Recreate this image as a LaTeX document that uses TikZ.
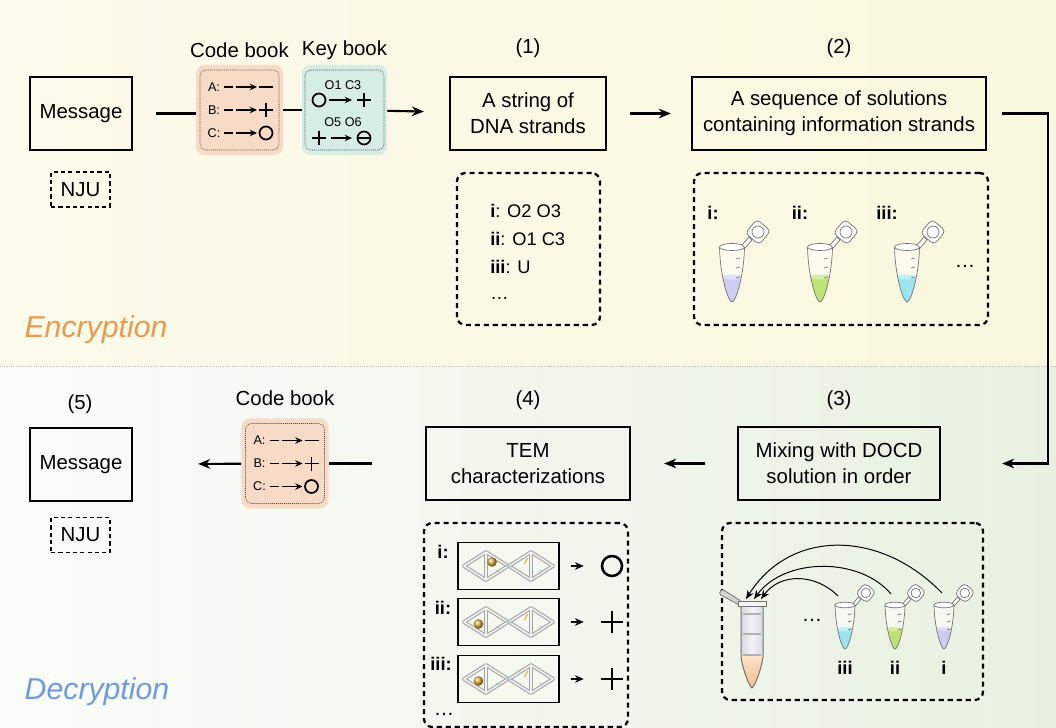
\documentclass[tikz,border=0pt]{standalone}
\usepackage{fontspec}
\setmainfont{Liberation Sans}
\usetikzlibrary{arrows.meta,positioning}

\definecolor{encbg}{HTML}{FAF7DF}
\definecolor{decbg}{HTML}{E8F1E1}
\definecolor{cbpeach}{HTML}{F8DBC6}
\definecolor{kbteal}{HTML}{D5EDE5}
\definecolor{enccol}{HTML}{E99A4E}
\definecolor{deccol}{HTML}{6E9BE0}
\definecolor{liqviolet}{HTML}{C6C4F4}
\definecolor{liqgreen}{HTML}{B4DE5E}
\definecolor{liqcyan}{HTML}{8CE2EE}
\definecolor{liqorange}{HTML}{F6BC8A}
\definecolor{origold}{HTML}{E6B23A}
\definecolor{temfill}{HTML}{F4F8EF}

\tikzset{
 stepbox/.style={draw,line width=1.6pt,align=center,inner sep=0pt,minimum height=18.25mm,font=\fontsize{14.5}{18.5}\selectfont},
 tagbox/.style={draw,line width=1.3pt,dash pattern=on 3pt off 2.2pt,minimum width=14.75mm,minimum height=8.75mm,inner sep=0pt,font=\fontsize{14.5}{17}\selectfont},
 hdr/.style={font=\fontsize{14.5}{17}\selectfont},
 listbox/.style={draw,line width=1.6pt,dash pattern=on 3.6pt off 2.8pt,rounded corners=6pt,inner sep=0pt},
 bookbg/.style={rounded corners=6pt,minimum height=22.5mm,inner sep=0pt},
 bookline/.style={draw=black!70,line width=0.45pt,dash pattern=on 0.7pt off 0.7pt,rounded corners=4pt},
 booktext/.style={font=\fontsize{9}{10}\selectfont,inner sep=0pt},
 sym/.style={line width=1.2pt},
 symtip/.style={line width=1.2pt,-{Stealth[length=1.8mm,width=1.6mm]}},
 flow/.style={line width=1.5pt,-{Stealth[length=3mm,width=2.4mm]}},
 link/.style={line width=1.5pt},
 tubeline/.style={draw=black!55,line width=0.5pt},
 tubelab/.style={font=\bfseries\fontsize{13}{15}\selectfont},
 listtext/.style={anchor=west,inner sep=0pt,font=\fontsize{13}{15}\selectfont},
 tembox/.style={draw,line width=1pt,fill=temfill,minimum width=25.25mm,minimum height=11.75mm,inner sep=0pt},
 rod/.style={draw=gray!70,double=gray!10,double distance=1.1pt,line width=0.8pt,line join=round},
 symnode/.style={minimum size=5mm,inner sep=0pt,line width=1.8pt},
 mixarrow/.style={line width=0.7pt,-{Stealth[length=2.2mm,width=1.8mm]}},
 section/.style={font=\itshape\fontsize{21.5}{24}\selectfont}
}

\newcommand{\codebook}[1]{%
 \node[bookbg,fill=cbpeach,minimum width=21.75mm] (#1) at (0,0) {};
 \draw[bookline] (-39.5,-40) rectangle (39.5,40);
 \foreach \rowy/\rowlab in {-23/A,0/B,23/C}{
  \node[booktext] at (-25.5,\rowy) {\rowlab:};
  \draw[sym] (-15.5,\rowy) -- (-6.5,\rowy);
  \draw[symtip] (-3.5,\rowy) -- (17.5,\rowy);
 }
 \draw[sym] (19.5,-23) -- (33.5,-23);
 \draw[sym] (19.5,0) -- (33.5,0) (26.5,-7) -- (26.5,7);
 \draw[sym] (26.5,23) circle (6.5);
}

\newcommand{\minitube}[1]{%
 \fill[white,opacity=0.5] (-12.5,0) .. controls (-12,28) and (-4,55) .. (0,55) .. controls (4,55) and (12,28) .. (12.5,0) -- cycle;
 \begin{scope}
  \clip (-12.5,0) .. controls (-12,28) and (-4,55) .. (0,55) .. controls (4,55) and (12,28) .. (12.5,0) -- cycle;
  \fill[#1,opacity=0.85] (-13,30) rectangle (13,56);
  \fill[#1!55!white] (0,30) ellipse (11 and 2.5);
 \end{scope}
 \draw[tubeline] (-12.5,0) .. controls (-12,28) and (-4,55) .. (0,55) .. controls (4,55) and (12,28) .. (12.5,0);
 \draw[tubeline,fill=white] (0,0) ellipse (12.5 and 3.5);
 \draw[tubeline] (4,12) -- (8,11) (4,21) -- (8,20) (4,31) -- (8,30);
 \draw[tubeline,fill=white] (10,-2) -- (17,-10) -- (20,-7) -- (13,1) -- cycle;
 \draw[tubeline,fill=white,rounded corners=3pt,rotate around={-40:(26,-15)}] (17,-24) rectangle (35,-6);
 \draw[tubeline] (26,-15) circle (6);
}

\newcommand{\temcell}[3]{%
 \node[tembox] (#1) at (0,0) {};
 \foreach \cx in {-22.5,22.5}
  \draw[rod] (\cx-22,0) -- (\cx,-14) -- (\cx+22,0) -- (\cx,14) -- cycle (\cx,-14) -- (\cx,14);
 \draw[teal!45,line width=0.5pt] (-4,-1) -- (4,1) (-12,4) -- (-9,6) (31,4) -- (34,6);
 \draw[origold,line width=0.8pt] (16,-2) -- (19,-8);
 \shade[ball color=origold] (#2,#3) circle (4.8);
}

\begin{document}
\begin{tikzpicture}[x=0.025cm,y=-0.025cm,>=Stealth]
 \useasboundingbox (0,0) rectangle (1056,728);
 \shade[left color=encbg!65!white,right color=encbg] (0,0) rectangle (1056,366);
 \shade[left color=decbg!20!white,right color=decbg] (0,366) rectangle (1056,728);
 \draw[gray!55,line width=0.7pt,dash pattern=on 0.7pt off 0.9pt] (0,366) -- (1056,366);

 \node[section,text=enccol] (enclab) at (96,330) {Encryption};
 \node[section,text=deccol] (declab) at (97,692) {Decryption};

 % encryption row
 \node[stepbox,minimum width=25.5mm] (msgenc) at (81,113.5) {Message};
 \node[tagbox] (njuenc) at (80.5,189.5) {NJU};
 \node[hdr] (cbenclab) at (239.5,50) {Code book};
 \node[hdr] (kbenclab) at (344.5,50) {Key book};
 \begin{scope}[shift={(239.5,110)}]
  \codebook{cbenc}
 \end{scope}
 \node[bookbg,fill=kbteal,minimum width=21.25mm] (kbenc) at (344.5,110) {};
 \draw[bookline] (305,70) rectangle (384,150);
 \node[booktext] at (343,85) {O1 C3};
 \draw[sym] (319,100) circle (6.5);
 \draw[symtip] (329,100) -- (352,100);
 \draw[sym] (357,100) -- (371,100) (364,93) -- (364,107);
 \node[booktext] at (343,122) {O5 O6};
 \draw[sym] (312,138) -- (326,138) (319,131) -- (319,145);
 \draw[symtip] (331,138) -- (352,138);
 \draw[sym] (364,138) circle (6.5) (357.5,138) -- (370.5,138);

 \node[hdr] (lbl1) at (528,48) {(1)};
 \node[stepbox,minimum width=39mm] (dna) at (528,113.5) {A string of\\DNA strands};
 \node[hdr] (lbl2) at (839,48) {(2)};
 \node[stepbox,minimum width=73.5mm] (sol) at (839,113.5) {A sequence of solutions\\containing information strands};

 \draw[link,shorten <=5.75mm] (msgenc) -- (msgenc -| cbenc.west);
 \draw[link] (cbenc) -- (kbenc);
 \draw[flow,shorten >=6.25mm] (kbenc) -- (dna);
 \draw[flow,shorten <=5.75mm,shorten >=5mm] (dna) -- (sol);

 % strands and solutions
 \node[listbox,minimum width=35.75mm,minimum height=38mm] (strands) at (528.5,249) {};
 \node[listtext] at (490,211) {\textbf{i}: O2 O3};
 \node[listtext] at (490,239) {\textbf{ii}: O1 C3};
 \node[listtext] at (490,267) {\textbf{iii}: U};
 \node[listtext] at (490,299) {\ldots};

 \node[listbox,minimum width=73.5mm,minimum height=38mm] (tubes) at (841,249) {};
 \node[tubelab] at (713,213) {i:};
 \node[tubelab] at (800,213) {ii:};
 \node[tubelab] at (887,213) {iii:};
 \begin{scope}[shift={(732,247)}] \minitube{liqviolet} \end{scope}
 \begin{scope}[shift={(820,247)}] \minitube{liqgreen} \end{scope}
 \begin{scope}[shift={(907,247)}] \minitube{liqcyan} \end{scope}
 \node[hdr] at (965,266) {\ldots};

 % decryption row
 \node[hdr] (lbl3) at (839,400) {(3)};
 \node[stepbox,minimum width=50.5mm] (mix) at (839,463.5) {Mixing with DOCD\\solution in order};
 \node[hdr] (lbl4) at (528,400) {(4)};
 \node[stepbox,minimum width=51mm] (tem) at (528,463.5) {TEM\\characterizations};
 \node[hdr] (cbdeclab) at (285,398) {Code book};
 \begin{scope}[shift={(285,463.5)}]
  \codebook{cbdec}
 \end{scope}
 \node[hdr] (lbl5) at (80,404) {(5)};
 \node[stepbox,minimum width=25.5mm] (msgdec) at (81,464.5) {Message};
 \node[tagbox] (njudec) at (80.5,535) {NJU};

 \draw[flow] ([xshift=3.75mm]sol.east) -- ++(45.5,0) |- ([xshift=15.25mm]mix.east);
 \draw[flow,shorten <=8mm,shorten >=8.25mm] (mix) -- (tem);
 \draw[link,shorten <=13.25mm] (tem) -- (tem -| cbdec.east);
 \draw[flow,shorten >=16.25mm] (cbdec) -- (msgdec);

 % mixing
 \node[listbox,minimum width=65.25mm,minimum height=44.25mm] (mixlist) at (852.5,611.5) {};
 \begin{scope}
  \clip (741,605) -- (741,657) .. controls (743,670) and (749,686) .. (752,688) .. controls (755,686) and (761,670) .. (763,657) -- (763,605) -- cycle;
  \shade[left color=gray!35,right color=gray!35,middle color=blue!5!white] (738,600) rectangle (766,690);
  \shade[top color=liqorange!45!white,bottom color=liqorange] (738,656) rectangle (766,690);
 \end{scope}
 \draw[tubeline,line width=0.7pt] (741,605) -- (741,657) .. controls (743,670) and (749,686) .. (752,688) .. controls (755,686) and (761,670) .. (763,657) -- (763,605);
 \draw[gray!60,line width=1pt] (743,614) -- (761,614) (743,634) -- (761,634) (743,655) -- (761,655);
 \draw[gray!70!black,fill=gray!35,line width=0.4pt,rounded corners=1pt] (741,601) -- (722,589) -- (719,594) -- (739,605) -- cycle;
 \draw[tubeline,fill=gray!8] (738,601) rectangle (766,606);
 \coordinate (mixtube) at (754,599);
 \node[hdr] at (812,620) {\ldots};
 \begin{scope}[shift={(845,605)},scale=0.8] \minitube{liqcyan} \end{scope}
 \begin{scope}[shift={(895,605)},scale=0.8] \minitube{liqgreen} \end{scope}
 \begin{scope}[shift={(944,605)},scale=0.8] \minitube{liqviolet} \end{scope}
 \node[tubelab] at (845,668) {iii};
 \node[tubelab] at (895,668) {ii};
 \node[tubelab] at (944,668) {i};
 \coordinate (tube-i) at (942,593);
 \coordinate (tube-ii) at (891,594);
 \coordinate (tube-iii) at (838,596);
 \draw[mixarrow] (tube-i) .. controls (880,529) and (790,529) .. ([xshift=-2mm]mixtube);
 \draw[mixarrow] (tube-ii) .. controls (860,557) and (785,557) .. (mixtube);
 \draw[mixarrow] (tube-iii) .. controls (815,573) and (780,573) .. ([xshift=1.75mm]mixtube);

 % TEM results
 \node[listbox,minimum width=51mm,minimum height=51mm] (temlist) at (526,625) {};
 \begin{scope}[shift={(508.5,566)}] \temcell{cell-i}{-16.5}{-4} \end{scope}
 \begin{scope}[shift={(508.5,622)}] \temcell{cell-ii}{-30}{2} \end{scope}
 \begin{scope}[shift={(508.5,679)}] \temcell{cell-iii}{-30}{2} \end{scope}
 \node[tubelab] at (443,552) {i:};
 \node[tubelab] at (443,608) {ii:};
 \node[tubelab] at (441,664) {iii:};
 \node[hdr] at (444,714) {\ldots};
 \node[symnode,circle,draw] (sym-i) at (612,566) {};
 \node[symnode] (sym-ii) at (612,622) {};
 \node[symnode] (sym-iii) at (612,679) {};
 \draw[line width=1.8pt] (sym-ii.west) -- (sym-ii.east) (sym-ii.north) -- (sym-ii.south);
 \draw[line width=1.8pt] (sym-iii.west) -- (sym-iii.east) (sym-iii.north) -- (sym-iii.south);
 \foreach \row in {i,ii,iii}
  \draw[flow,-{Stealth[length=2.2mm,width=1.9mm]},shorten <=2.75mm,shorten >=4.25mm] (cell-\row) -- (sym-\row);
\end{tikzpicture}
\end{document}
